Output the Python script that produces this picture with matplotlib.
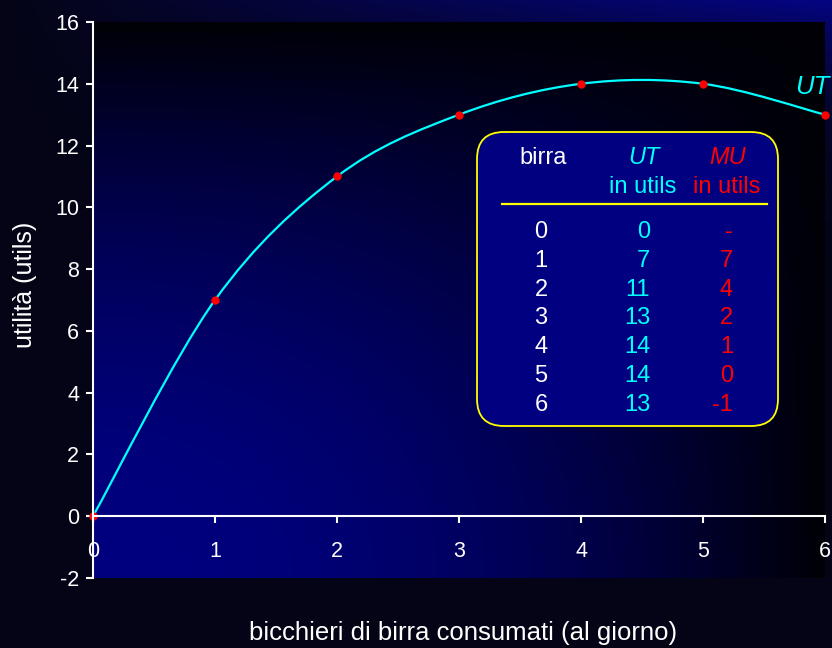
import numpy as np
import matplotlib
matplotlib.use('Agg')
import matplotlib.pyplot as plt
from matplotlib.path import Path
from matplotlib.patches import PathPatch, FancyBboxPatch
from matplotlib.lines import Line2D

plt.rcParams['font.family'] = ['Liberation Sans', 'DejaVu Sans']
plt.rcParams['axes.unicode_minus'] = False

# dati
bicchieri = [0, 1, 2, 3, 4, 5, 6]
utilita_totale = [0, 7, 11, 13, 14, 14, 13]
utilita_marginale = ['-', '7', '4', '2', '1', '0', '-1']
x_ticks = [0, 1, 2, 3, 4, 5, 6]
y_ticks = [-2, 0, 2, 4, 6, 8, 10, 12, 14, 16]

W, H = 832, 648
fig = plt.figure(figsize=(W / 100, H / 100), dpi=100)


def fx(px):
    return px / W


def fy(py):
    return 1 - py / H


# sfondo della figura (sfumatura verso il blu in alto a destra)
bg = fig.add_axes([0, 0, 1, 1], zorder=-10)
u, v = np.meshgrid(np.linspace(0, 1, 300), np.linspace(0, 1, 300))
blu = 22 + 110 * u * v ** 8
img = np.dstack([np.full_like(u, 4), np.full_like(u, 4), blu]) / 255
bg.imshow(img, origin='lower', extent=[0, 1, 0, 1], aspect='auto')
bg.axis('off')

# area del grafico
ax = fig.add_axes([fx(93), 1 - 578 / H, 732 / W, 556 / H])
ax.set_facecolor('none')
blu2 = 6 + 122 * (1 - u ** 2) * (1 - v ** 2)
img2 = np.dstack([np.zeros_like(u), np.zeros_like(u), blu2]) / 255
ax.imshow(img2, origin='lower', extent=[0, 6, -2, 16], aspect='auto', zorder=0)

# curva liscia (stile Excel) attraverso i punti
px = np.array(bicchieri, float)
py = np.array(utilita_totale, float)
n = len(px)
verts = [(px[0], py[0])]
codes = [Path.MOVETO]
for i in range(n - 1):
    p0 = np.array([px[max(i - 1, 0)], py[max(i - 1, 0)]])
    p1 = np.array([px[i], py[i]])
    p2 = np.array([px[i + 1], py[i + 1]])
    p3 = np.array([px[min(i + 2, n - 1)], py[min(i + 2, n - 1)]])
    c1 = p1 + (p2 - p0) / 6
    c2 = p2 - (p3 - p1) / 6
    verts += [tuple(c1), tuple(c2), tuple(p2)]
    codes += [Path.CURVE4] * 3
ax.add_patch(PathPatch(Path(verts, codes), facecolor='none', edgecolor='#00FFFF',
                       lw=1.6, zorder=3))
ax.plot(bicchieri, utilita_totale, 'o', color='#FF0000', markersize=5,
        zorder=4, clip_on=False)

ax.set_xlim(0, 6)
ax.set_ylim(-2, 16)
ax.set_xticks(x_ticks)
ax.set_yticks(y_ticks)

for s in ['top', 'right']:
    ax.spines[s].set_visible(False)
ax.spines['bottom'].set_position(('data', 0))
for s in ['bottom', 'left']:
    ax.spines[s].set_color('white')
    ax.spines[s].set_linewidth(1.5)
    ax.spines[s].set_zorder(5)
ax.tick_params(axis='x', colors='white', direction='out', length=5, width=1.5,
               labelsize=15.5, pad=13)
ax.tick_params(axis='y', colors='white', direction='out', length=5, width=1.5,
               labelsize=15.5, pad=5)

# etichette degli assi
fig.text(fx(463), fy(633), 'bicchieri di birra consumati (al giorno)',
         color='white', fontsize=18.5, ha='center', va='center')
fig.text(fx(25), fy(285), 'utilità (utils)', color='white', fontsize=18,
         ha='center', va='center', rotation=90)

# etichetta della curva
fig.text(fx(795), fy(87), 'UT', color='#00FFFF', fontsize=18.5,
         style='italic', ha='left', va='center')

# tabella
box = FancyBboxPatch((fx(477), fy(426)), fx(778) - fx(477), fy(132) - fy(426),
                     boxstyle='round,pad=0,rounding_size=%f' % (27 / W),
                     mutation_aspect=W / H, transform=fig.transFigure,
                     facecolor='#000080', edgecolor='#FFFF00', lw=1.3, zorder=6)
fig.patches.append(box)

fs = 17
fig.text(fx(543), fy(158), 'birra', color='white', fontsize=fs, ha='center', va='center', zorder=7)
fig.text(fx(644), fy(158), 'UT', color='#00FFFF', fontsize=fs, style='italic', ha='center', va='center', zorder=7)
fig.text(fx(643), fy(187), 'in utils', color='#00FFFF', fontsize=fs, ha='center', va='center', zorder=7)
fig.text(fx(728), fy(158), 'MU', color='#FF0000', fontsize=fs, style='italic', ha='center', va='center', zorder=7)
fig.text(fx(727), fy(187), 'in utils', color='#FF0000', fontsize=fs, ha='center', va='center', zorder=7)
fig.lines.append(Line2D([fx(502), fx(767)], [fy(204), fy(204)], color='#FFFF00',
                        lw=1.6, transform=fig.transFigure, zorder=7))

for i, (b, ut, mu) in enumerate(zip(bicchieri, utilita_totale, utilita_marginale)):
    y = fy(232 + i * 28.83)
    fig.text(fx(541), y, str(b), color='white', fontsize=fs, ha='center', va='center', zorder=7)
    fig.text(fx(650), y, str(ut), color='#00FFFF', fontsize=fs, ha='right', va='center', zorder=7)
    fig.text(fx(733), y, mu, color='#FF0000', fontsize=fs, ha='right', va='center', zorder=7)

fig.savefig('out.png', dpi=100)
